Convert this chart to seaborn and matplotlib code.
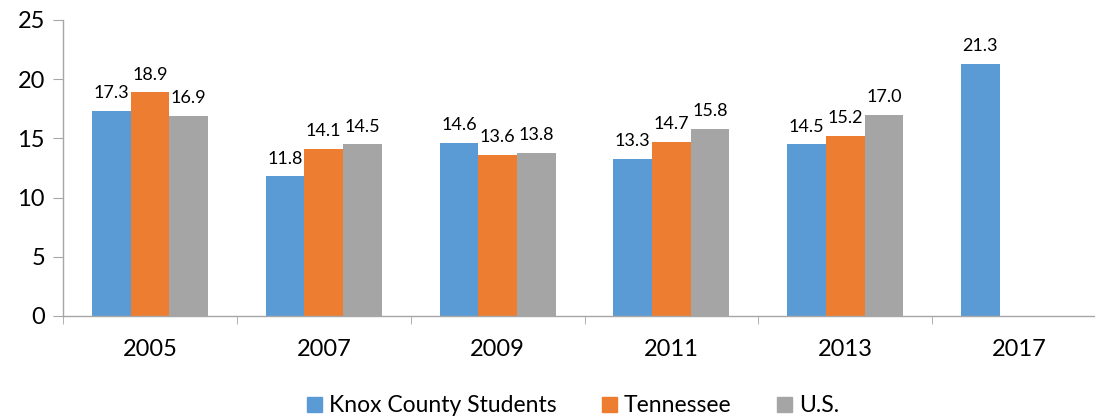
import numpy as np
import pandas as pd
import matplotlib
matplotlib.use("Agg")
import matplotlib.pyplot as plt
import seaborn as sns

years = ["2005", "2007", "2009", "2011", "2013", "2017"]
knox = [17.3, 11.8, 14.6, 13.3, 14.5, 21.3]
tennessee = [18.9, 14.1, 13.6, 14.7, 15.2, np.nan]
us = [16.9, 14.5, 13.8, 15.8, 17.0, np.nan]
series = ["Knox County Students", "Tennessee", "U.S."]
colors = ["#5B9BD5", "#ED7D31", "#A5A5A5"]

df = pd.DataFrame({"year": years * 3,
                   "value": knox + tennessee + us,
                   "group": [s for s in series for _ in years]})

sns.set_style("white")
plt.rcParams["font.family"] = ["Lato", "DejaVu Sans"]
plt.rcParams["text.color"] = "black"
plt.rcParams["xtick.color"] = "black"
plt.rcParams["ytick.color"] = "black"

fig = plt.figure(figsize=(10.95, 4.18), dpi=100)
ax = fig.add_axes([63 / 1095, 102 / 418, 1043 / 1095, 296 / 418])

sns.barplot(data=df, x="year", y="value", hue="group", order=years,
            hue_order=series, palette=colors, width=0.667, ax=ax,
            linewidth=0, saturation=1, legend=False)

for cont in ax.containers:
    ax.bar_label(cont, fmt="%.1f", padding=7, fontsize=13, color="black")

ax.set_ylim(0, 25)
ax.set_yticks([0, 5, 10, 15, 20, 25])
ax.set_xlim(-0.5, 5.5)
ax.set_xlabel("")
ax.set_ylabel("")

gray = "#A6A6A6"
for side in ["top", "right"]:
    ax.spines[side].set_visible(False)
for side in ["left", "bottom"]:
    ax.spines[side].set_color(gray)
    ax.spines[side].set_linewidth(1)

ax.tick_params(axis="y", which="major", left=True, length=7, color=gray,
               labelsize=17, pad=6, labelcolor="black")
ax.tick_params(axis="x", which="major", bottom=False, labelsize=17, pad=13,
               labelcolor="black")
ax.set_xticks(np.arange(-0.5, 6, 1), minor=True)
ax.tick_params(axis="x", which="minor", bottom=True, length=6, color=gray)

handles = [plt.Rectangle((0, 0), 1, 1, color=c) for c in colors]
fig.legend(handles, series, loc="center", bbox_to_anchor=(573 / 1095, 12 / 418),
           ncol=3, frameon=False, fontsize=16.5, handlelength=0.65,
           handleheight=0.65, handletextpad=0.3, columnspacing=2.0)

fig.savefig("out.png", dpi=100)
